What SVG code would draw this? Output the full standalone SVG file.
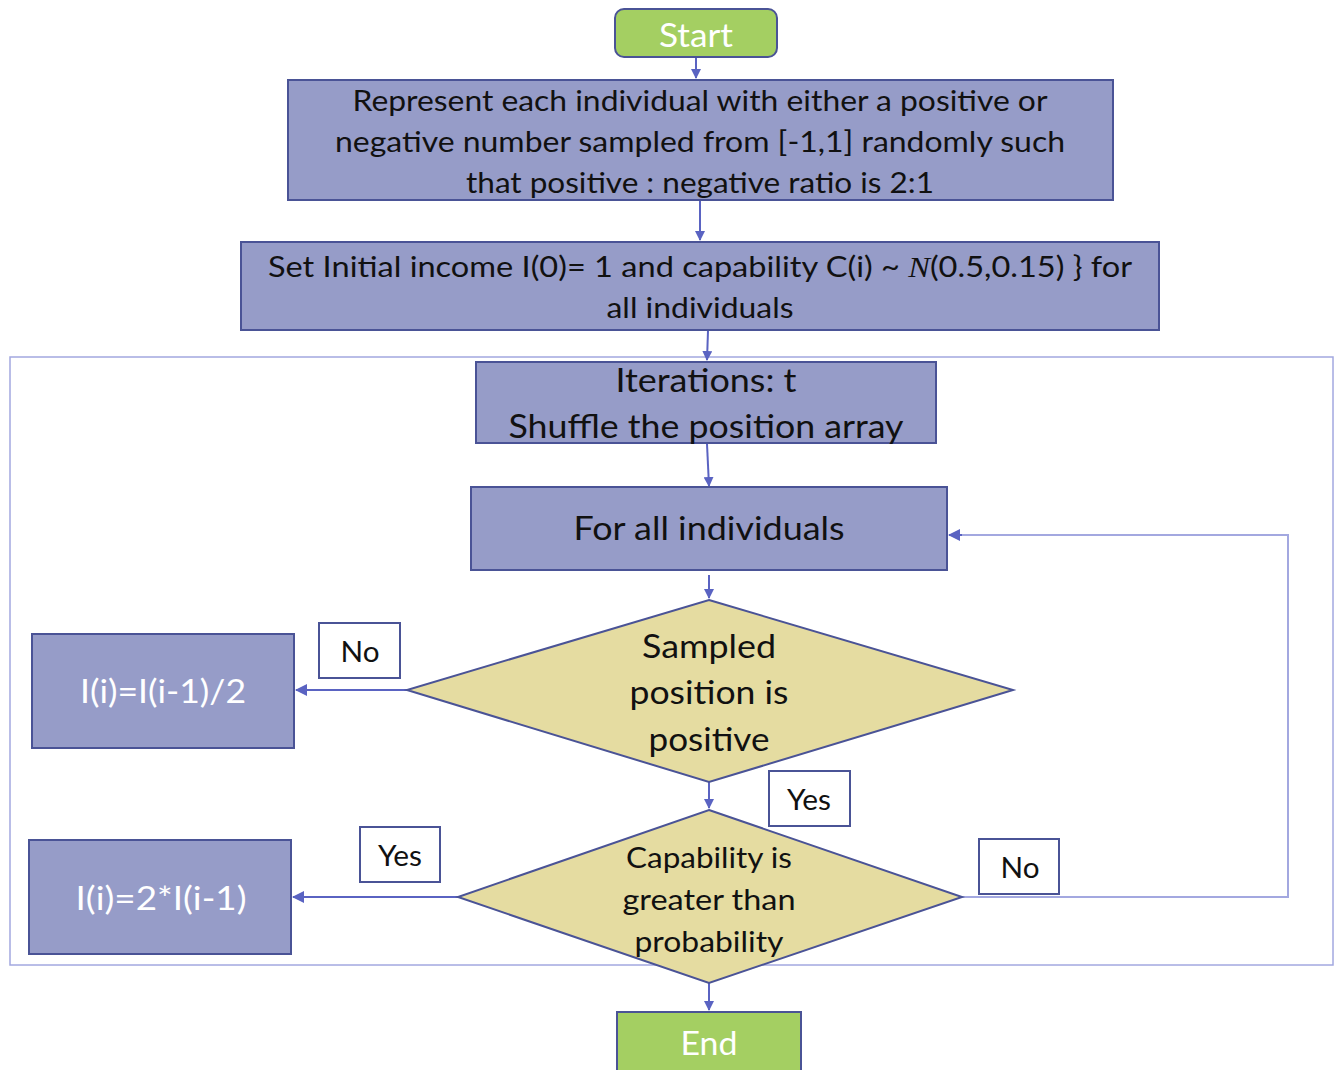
<svg xmlns="http://www.w3.org/2000/svg" width="1339" height="1070" viewBox="0 0 1339 1070">
<style>
.box{fill:#969cc8;stroke:#4a5396;stroke-width:2}
.term{fill:#a4cf62;stroke:#4a5396;stroke-width:2}
.dia{fill:#e5dca1;stroke:#4a5396;stroke-width:2}
.lbl{fill:#ffffff;stroke:#4a5396;stroke-width:2}
.t{font-family:Lato,"Liberation Sans",sans-serif;fill:#111111;text-anchor:middle}
.w{fill:#ffffff}
.c{fill:none;stroke:#5a63c2;stroke-width:2}
.cl{fill:none;stroke:#a3a8e0;stroke-width:2}
</style>
<defs>
<marker id="ah" markerWidth="10" markerHeight="10" refX="9" refY="5" orient="auto" markerUnits="userSpaceOnUse">
<path d="M0,0 L10,5 L0,10 z" fill="#5a63c2"/>
</marker>
<marker id="ahs" markerWidth="12" markerHeight="12" refX="11" refY="6" orient="auto" markerUnits="userSpaceOnUse">
<path d="M0,0 L12,6 L0,12 z" fill="#5a63c2"/>
</marker>
</defs>
<rect x="10" y="357" width="1323" height="608" fill="none" stroke="#a3a8e0" stroke-width="1.5"/>
<g id="connectors">
<line class="c" x1="696" y1="58" x2="696" y2="78" marker-end="url(#ah)"/>
<line class="c" x1="700" y1="201" x2="700" y2="240" marker-end="url(#ah)"/>
<line class="c" x1="708" y1="331" x2="707" y2="360" marker-end="url(#ah)"/>
<line class="c" x1="707" y1="444" x2="709" y2="486" marker-end="url(#ah)"/>
<line class="c" x1="709" y1="575" x2="709" y2="598" marker-end="url(#ah)"/>
<line class="c" x1="407" y1="690" x2="296" y2="690" marker-end="url(#ahs)"/>
<line class="c" x1="709" y1="782" x2="709" y2="808" marker-end="url(#ah)"/>
<line class="c" x1="458" y1="897" x2="293" y2="897" marker-end="url(#ahs)"/>
<polyline class="cl" points="962,897 1288,897 1288,535 960,535"/>
<line class="c" x1="962" y1="535" x2="949" y2="535" marker-end="url(#ahs)"/>
<line class="c" x1="709" y1="983" x2="709" y2="1010" marker-end="url(#ah)"/>
</g>
<g id="start">
<rect class="term" x="615" y="9" width="162" height="48" rx="9"/>
<text class="t w" x="696" y="47" font-size="32" textLength="74" lengthAdjust="spacingAndGlyphs">Start</text>
</g>
<g id="represent">
<rect class="box" x="288" y="80" width="825" height="120"/>
<text class="t" x="700" y="111" font-size="29" textLength="695" lengthAdjust="spacingAndGlyphs">Represent each individual with either a positive or</text>
<text class="t" x="700" y="152" font-size="29" textLength="730" lengthAdjust="spacingAndGlyphs">negative number sampled from [-1,1] randomly such</text>
<text class="t" x="700" y="193" font-size="29" textLength="468" lengthAdjust="spacingAndGlyphs">that positive : negative ratio is 2:1</text>
</g>
<g id="init">
<rect class="box" x="241" y="242" width="918" height="88"/>
<text class="t" x="700" y="277" font-size="29" textLength="864" lengthAdjust="spacingAndGlyphs">Set Initial income I(0)= 1 and capability C(i) ~ <tspan font-family="'Liberation Serif',serif" font-style="italic">N</tspan>(0.5,0.15) } for</text>
<text class="t" x="700" y="318" font-size="29" textLength="187" lengthAdjust="spacingAndGlyphs">all individuals</text>
</g>
<g id="iterations">
<rect class="box" x="476" y="362" width="460" height="81"/>
<text class="t" x="706" y="392" font-size="33" textLength="181" lengthAdjust="spacingAndGlyphs">Iterations: t</text>
<text class="t" x="706" y="438" font-size="33" textLength="395" lengthAdjust="spacingAndGlyphs">Shuffle the position array</text>
</g>
<g id="forall">
<rect class="box" x="471" y="487" width="476" height="83"/>
<text class="t" x="709" y="540" font-size="33" textLength="271" lengthAdjust="spacingAndGlyphs">For all individuals</text>
</g>
<g id="sampled">
<polygon class="dia" points="709,600 1013,690 709,782 407,690"/>
<text class="t" x="709" y="658" font-size="33" textLength="134" lengthAdjust="spacingAndGlyphs">Sampled</text>
<text class="t" x="709" y="704" font-size="33" textLength="159" lengthAdjust="spacingAndGlyphs">position is</text>
<text class="t" x="709" y="751" font-size="33" textLength="121" lengthAdjust="spacingAndGlyphs">positive</text>
</g>
<g id="half">
<rect class="box" x="32" y="634" width="262" height="114"/>
<text class="t w" x="163" y="703" font-size="33" textLength="166" lengthAdjust="spacingAndGlyphs">I(i)=I(i-1)/2</text>
</g>
<g id="no1">
<rect class="lbl" x="319" y="623" width="81" height="55"/>
<text class="t" x="360" y="662" font-size="29" textLength="39" lengthAdjust="spacingAndGlyphs">No</text>
</g>
<g id="capability">
<polygon class="dia" points="709,810 962,897 709,983 458,897"/>
<text class="t" x="709" y="868" font-size="29" textLength="166" lengthAdjust="spacingAndGlyphs">Capability is</text>
<text class="t" x="709" y="910" font-size="29" textLength="173" lengthAdjust="spacingAndGlyphs">greater than</text>
<text class="t" x="709" y="952" font-size="29" textLength="149" lengthAdjust="spacingAndGlyphs">probability</text>
</g>
<g id="yes1">
<rect class="lbl" x="769" y="771" width="81" height="55"/>
<text class="t" x="809" y="810" font-size="29" textLength="44" lengthAdjust="spacingAndGlyphs">Yes</text>
</g>
<g id="double">
<rect class="box" x="29" y="840" width="262" height="114"/>
<text class="t w" x="161" y="910" font-size="33" textLength="171" lengthAdjust="spacingAndGlyphs">I(i)=2*I(i-1)</text>
</g>
<g id="yes2">
<rect class="lbl" x="360" y="827" width="80" height="55"/>
<text class="t" x="400" y="866" font-size="29" textLength="44" lengthAdjust="spacingAndGlyphs">Yes</text>
</g>
<g id="no2">
<rect class="lbl" x="979" y="839" width="80" height="55"/>
<text class="t" x="1020" y="878" font-size="29" textLength="39" lengthAdjust="spacingAndGlyphs">No</text>
</g>
<g id="end">
<rect class="term" x="617" y="1012" width="184" height="70"/>
<text class="t w" x="709" y="1055" font-size="33" textLength="57" lengthAdjust="spacingAndGlyphs">End</text>
</g>
</svg>
